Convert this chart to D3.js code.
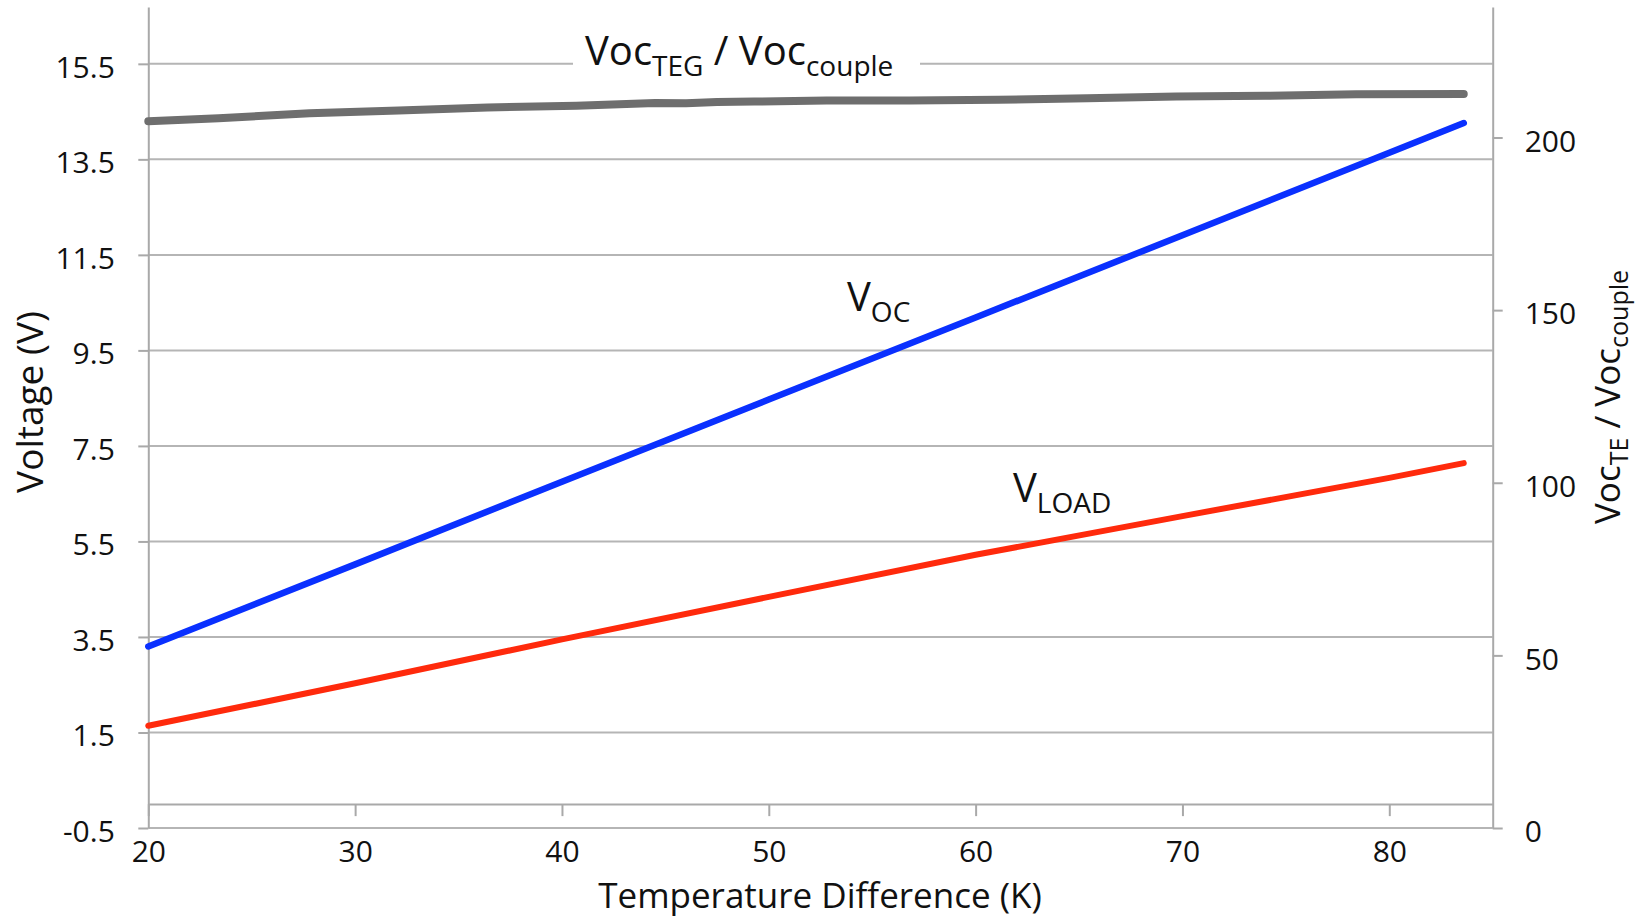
<!DOCTYPE html>
<html>
<head>
<meta charset="utf-8">
<script src="https://cdnjs.cloudflare.com/ajax/libs/d3/7.8.5/d3.min.js"></script>
<style>
  body { margin: 0; background: #fff; }
  text { font-family: "Open Sans", sans-serif; fill: #111; }
</style>
</head>
<body>
<script>
// temperature difference (K) and the two voltages (V)
var tempK = [20, 30, 40, 50, 60, 70, 80, 83.6];
var vOC = [3.30, 5.02, 6.75, 8.47, 10.19, 11.91, 13.64, 14.26];
var vLoad = [1.64, 2.53, 3.45, 4.34, 5.22, 6.03, 6.83, 7.14];

// ratio Voc_TEG / Voc_couple (right axis)
var ratioK = [20.0, 23.4, 27.8, 32.1, 36.4, 40.7, 44.5, 46.0, 47.5, 49.3, 52.8, 56.8, 61.1, 65.4, 69.7, 74.0, 78.4, 83.6];
var ratio = [204.7, 205.6, 207.0, 207.8, 208.7, 209.2, 210.0, 209.9, 210.3, 210.4, 210.7, 210.7, 210.9, 211.4, 211.9, 212.1, 212.5, 212.6];

// tick values
var xTicks = [20, 30, 40, 50, 60, 70, 80];
var leftTicks = [-0.5, 1.5, 3.5, 5.5, 7.5, 9.5, 11.5, 13.5, 15.5];
var rightTicks = [0, 50, 100, 150, 200];

var W = 1638, H = 919;
// plot box (pixels)
var pLeft = 148.3, pRight = 1492.7, pTop = 7, pBottom = 828;

var svg = d3.select("body").append("svg")
  .attr("width", W).attr("height", H);

var xScale = d3.scaleLinear().domain([20, 85]).range([pLeft, pRight]);
var yLeft = d3.scaleLinear().domain([-0.5, 16.69]).range([pBottom, pTop]);
var yRight = d3.scaleLinear().domain([0, 237.8]).range([pBottom, pTop]);

var axisCol = "#a9a9a9";

// horizontal gridlines
svg.append("g").selectAll("line")
  .data(leftTicks)
  .enter().append("line")
  .attr("x1", pLeft).attr("x2", pRight)
  .attr("y1", function(d) { return yLeft(d); })
  .attr("y2", function(d) { return yLeft(d); })
  .attr("stroke", "#b5b5b5").attr("stroke-width", 2);

// left axis (plain hyphen for the minus, like the original)
var gL = svg.append("g").attr("transform", "translate(" + pLeft + ",0)")
  .call(d3.axisLeft(yLeft).tickValues(leftTicks).tickSizeInner(10).tickSizeOuter(0)
        .tickPadding(23.5).tickFormat(function(d) { return d.toFixed(1); }));

// right axis
var gR = svg.append("g").attr("transform", "translate(" + pRight + ",0)")
  .call(d3.axisRight(yRight).tickValues(rightTicks).tickSizeInner(10).tickSizeOuter(0)
        .tickPadding(22));

// x axis sits at V = 0
var gX = svg.append("g").attr("transform", "translate(0," + yLeft(0) + ")")
  .call(d3.axisBottom(xScale).tickValues(xTicks).tickSizeInner(12).tickSizeOuter(0)
        .tickPadding(24.5));

[gL, gR, gX].forEach(function(g) {
  g.select(".domain").attr("stroke", axisCol).attr("stroke-width", 2);
  g.selectAll(".tick line").attr("stroke", axisCol).attr("stroke-width", 2);
  g.selectAll(".tick text").style("font-size", "30px").attr("fill", "#111")
    .style("font-family", "'Open Sans', sans-serif");
});
gL.selectAll(".tick text").attr("dy", "0.45em");
gR.selectAll(".tick text").attr("dy", "0.46em");

// series lines
var lineV = function(vals) {
  return d3.line()
    .x(function(d, i) { return xScale(tempK[i]); })
    .y(function(d) { return yLeft(d); })(vals);
};

svg.append("path")
  .attr("d", d3.line()
    .x(function(d, i) { return xScale(ratioK[i]); })
    .y(function(d) { return yRight(d); })(ratio))
  .attr("fill", "none").attr("stroke", "#6e6e6e").attr("stroke-width", 8)
  .attr("stroke-linecap", "round").attr("stroke-linejoin", "round");

svg.append("path").attr("d", lineV(vLoad))
  .attr("fill", "none").attr("stroke", "#ff2a0c").attr("stroke-width", 6)
  .attr("stroke-linecap", "round").attr("stroke-linejoin", "round");

svg.append("path").attr("d", lineV(vOC))
  .attr("fill", "none").attr("stroke", "#0a30ff").attr("stroke-width", 6.5)
  .attr("stroke-linecap", "round").attr("stroke-linejoin", "round");

// title label with white box over gridline
svg.append("rect").attr("x", 573).attr("y", 28).attr("width", 347).attr("height", 58)
  .attr("fill", "#fff");

function subLabel(x, y, main, sub) {
  var t = svg.append("text").attr("x", x).attr("y", y).style("font-size", "40px");
  t.append("tspan").text(main);
  t.append("tspan").attr("dy", 11).style("font-size", "28px").text(sub);
  return t;
}

var t1 = svg.append("text").attr("x", 585).attr("y", 65).style("font-size", "40px");
t1.append("tspan").text("Voc");
t1.append("tspan").attr("dy", 11).style("font-size", "28px").text("TEG");
t1.append("tspan").attr("dy", -11).text(" / Voc");
t1.append("tspan").attr("dy", 11).style("font-size", "28px").text("couple");

subLabel(847, 311, "V", "OC");
subLabel(1013, 502, "V", "LOAD");

// axis titles
svg.append("text")
  .attr("x", 820).attr("y", 908)
  .attr("text-anchor", "middle")
  .style("font-size", "35px")
  .text("Temperature Difference (K)");

svg.append("text")
  .attr("transform", "translate(43,402) rotate(-90)")
  .attr("text-anchor", "middle")
  .style("font-size", "37px")
  .text("Voltage (V)");

var t2 = svg.append("text")
  .attr("transform", "translate(1620,397) rotate(-90)")
  .attr("text-anchor", "middle")
  .style("font-size", "35px");
t2.append("tspan").text("Voc");
t2.append("tspan").attr("dy", 8).style("font-size", "25px").text("TE");
t2.append("tspan").attr("dy", -8).text(" / Voc");
t2.append("tspan").attr("dy", 8).style("font-size", "25px").text("couple");
</script>
</body>
</html>
